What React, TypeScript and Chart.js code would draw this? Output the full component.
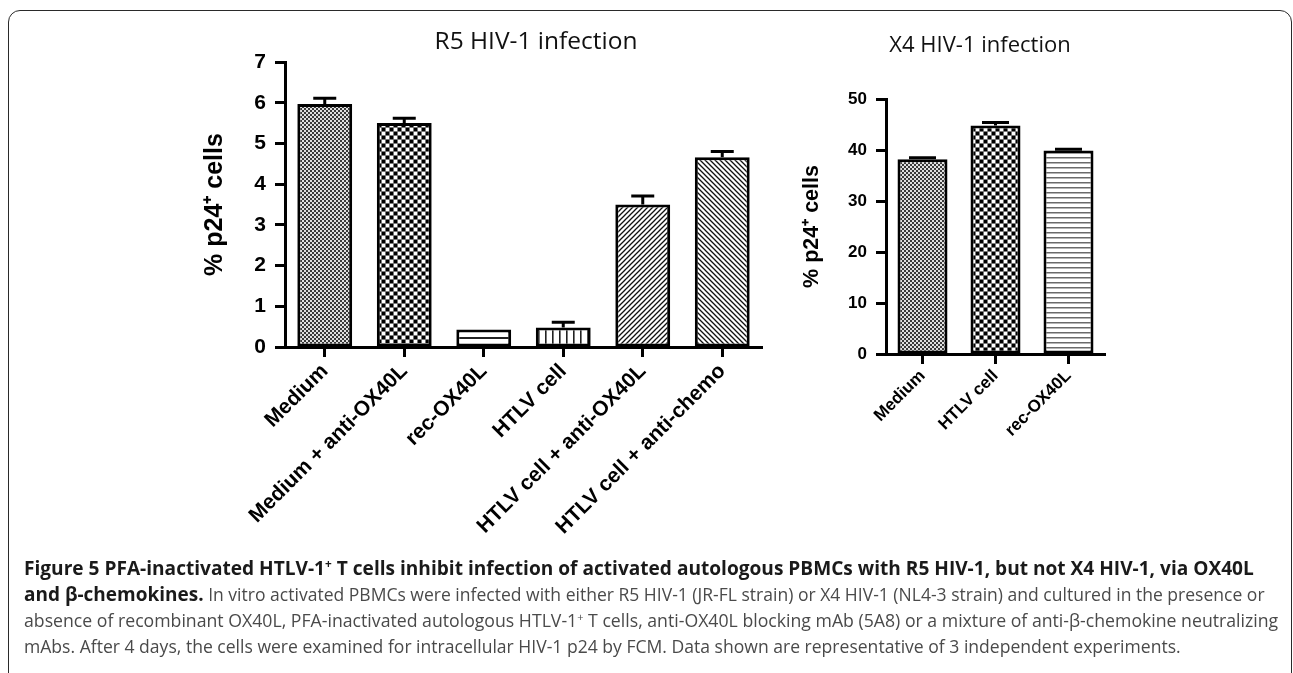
import React, { useEffect, useLayoutEffect, useRef } from 'react';
import { Chart, registerables } from 'chart.js';

Chart.register(...registerables);

// ---------- data ----------
const r5Title = 'R5 HIV-1 infection';
const r5Categories = ['Medium', 'Medium + anti-OX40L', 'rec-OX40L', 'HTLV cell', 'HTLV cell + anti-OX40L', 'HTLV cell + anti-chemo'];
const r5Values = [5.97, 5.5, 0.43, 0.48, 3.5, 4.66];
const r5Errors = [0.14, 0.12, 0.0, 0.13, 0.21, 0.14];
const r5Ticks = [0, 1, 2, 3, 4, 5, 6, 7];
const r5Patterns = ['fineChecker', 'coarseChecker', 'hLinesWide', 'vLines', 'diagUp', 'diagDown'];

const x4Title = 'X4 HIV-1 infection';
const x4Categories = ['Medium', 'HTLV cell', 'rec-OX40L'];
const x4Values = [38.2, 44.8, 39.9];
const x4Errors = [0.3, 0.6, 0.25];
const x4Ticks = [0, 10, 20, 30, 40, 50];
const x4Patterns = ['fineChecker', 'coarseChecker', 'hLinesFine'];

const yAxisTitle = '% p24\u207A cells';

// ---------- patterns ----------
function tile(ctx: CanvasRenderingContext2D, w: number, h: number, draw: (t: CanvasRenderingContext2D) => void) {
  const c = document.createElement('canvas');
  c.width = w;
  c.height = h;
  const t = c.getContext('2d') as CanvasRenderingContext2D;
  t.fillStyle = '#fff';
  t.fillRect(0, 0, w, h);
  draw(t);
  return ctx.createPattern(c, 'repeat') as CanvasPattern;
}

function makePattern(ctx: CanvasRenderingContext2D, name: string) {
  switch (name) {
    case 'fineChecker':
      return tile(ctx, 4, 4, (t) => {
        t.fillStyle = '#3a3a3a';
        t.fillRect(0, 0, 4, 4);
        t.fillStyle = '#e0e0e0';
        t.fillRect(0, 0, 2, 2);
        t.fillRect(2, 2, 2, 2);
      });
    case 'coarseChecker':
      return tile(ctx, 8, 8, (t) => {
        t.fillStyle = '#000';
        t.fillRect(0, 0, 3, 3);
        t.fillRect(4, 4, 3, 3);
        t.fillStyle = '#777';
        t.fillRect(3, 0, 1, 8);
        t.fillRect(7, 0, 1, 8);
        t.fillRect(0, 3, 8, 1);
        t.fillRect(0, 7, 8, 1);
      });
    case 'hLinesWide':
      return tile(ctx, 8, 9, (t) => {
        t.fillStyle = '#222';
        t.fillRect(0, 4, 8, 2);
      });
    case 'hLinesFine':
      return tile(ctx, 8, 5, (t) => {
        t.fillStyle = '#6a6a6a';
        t.fillRect(0, 2, 8, 1.5);
      });
    case 'vLines':
      return tile(ctx, 7, 8, (t) => {
        t.fillStyle = '#222';
        t.fillRect(3, 0, 1.6, 8);
      });
    case 'diagUp':
      return tile(ctx, 5, 5, (t) => {
        t.strokeStyle = '#111';
        t.lineWidth = 1.3;
        t.beginPath();
        t.moveTo(-1, 6);
        t.lineTo(6, -1);
        t.moveTo(-1, 1);
        t.lineTo(1, -1);
        t.moveTo(4, 6);
        t.lineTo(6, 4);
        t.stroke();
      });
    case 'diagDown':
    default:
      return tile(ctx, 5, 5, (t) => {
        t.strokeStyle = '#111';
        t.lineWidth = 1.3;
        t.beginPath();
        t.moveTo(-1, -1);
        t.lineTo(6, 6);
        t.moveTo(4, -1);
        t.lineTo(6, 1);
        t.moveTo(-1, 4);
        t.lineTo(1, 6);
        t.stroke();
      });
  }
}

// ---------- plugins ----------
const errorBarPlugin = {
  id: 'errorBars',
  afterDatasetsDraw(chart: any, _args: any, opts: any) {
    const { ctx } = chart;
    const meta = chart.getDatasetMeta(0);
    const yScale = chart.scales.y;
    const values = chart.data.datasets[0].data as number[];
    ctx.save();
    ctx.strokeStyle = '#000';
    ctx.lineWidth = 3;
    meta.data.forEach((bar: any, i: number) => {
      const e = opts.errors[i];
      if (!e) return;
      const yTop = yScale.getPixelForValue(values[i] + e);
      ctx.beginPath();
      ctx.moveTo(bar.x, bar.y);
      ctx.lineTo(bar.x, yTop);
      ctx.moveTo(bar.x - opts.cap / 2, yTop);
      ctx.lineTo(bar.x + opts.cap / 2, yTop);
      ctx.stroke();
    });
    ctx.restore();
  },
};

const panelTitlePlugin = {
  id: 'panelTitle',
  afterDraw(chart: any, _args: any, opts: any) {
    const { ctx } = chart;
    ctx.save();
    ctx.font = opts.font;
    ctx.fillStyle = '#111';
    ctx.textAlign = 'center';
    ctx.textBaseline = 'alphabetic';
    ctx.fillText(opts.text, opts.x, opts.y);
    ctx.restore();
  },
};

interface PanelSpec {
  title: string;
  titleX: number;
  titleY: number;
  titleFont: string;
  labels: string[];
  values: number[];
  errors: number[];
  patterns: string[];
  ticks: number[];
  padTop: number;
  padRight: number;
  yWidth: number;
  xHeight: number;
  tickSize: number;
  xLabelSize: number;
  yTitleSize: number;
  yTitlePad: number;
  barPct: number;
  cap: number;
}

function buildChart(canvas: HTMLCanvasElement, p: PanelSpec) {
  const ctx = canvas.getContext('2d') as CanvasRenderingContext2D;
  const fills = p.patterns.map((n) => makePattern(ctx, n));
  const family = '"Liberation Sans", Arial, sans-serif';
  return new Chart(canvas, {
    type: 'bar',
    data: {
      labels: p.labels,
      datasets: [
        {
          data: p.values,
          backgroundColor: fills as any,
          borderColor: '#000',
          borderWidth: 3,
          borderSkipped: false as any,
          barPercentage: p.barPct,
          categoryPercentage: 1,
        },
      ],
    },
    options: {
      responsive: false,
      animation: false,
      events: [],
      layout: { padding: { top: p.padTop, right: p.padRight, left: 0, bottom: 0 } },
      plugins: {
        legend: { display: false },
        tooltip: { enabled: false },
        title: { display: false },
        errorBars: { errors: p.errors, cap: p.cap },
        panelTitle: { text: p.title, x: p.titleX, y: p.titleY, font: p.titleFont },
      } as any,
      scales: {
        x: {
          type: 'category',
          offset: true,
          grid: {
            display: true,
            drawOnChartArea: false,
            drawTicks: true,
            tickLength: 10,
            tickWidth: 3,
            tickColor: '#000',
            offset: false,
          },
          border: { display: true, color: '#000', width: 3 },
          ticks: {
            color: '#000',
            autoSkip: false,
            minRotation: 45,
            maxRotation: 45,
            padding: 2,
            font: { family, size: p.xLabelSize, weight: 'bold' },
          },
          afterFit: (s: any) => {
            s.height = p.xHeight;
          },
        },
        y: {
          min: p.ticks[0],
          max: p.ticks[p.ticks.length - 1],
          afterBuildTicks: (s: any) => {
            s.ticks = p.ticks.map((v) => ({ value: v }));
          },
          grid: {
            display: true,
            drawOnChartArea: false,
            drawTicks: true,
            tickLength: 10,
            tickWidth: 3,
            tickColor: '#000',
          },
          border: { display: true, color: '#000', width: 3 },
          ticks: {
            color: '#000',
            padding: 9,
            font: { family, size: p.tickSize, weight: 'bold' },
          },
          title: {
            display: true,
            text: yAxisTitle,
            color: '#000',
            font: { family, size: p.yTitleSize, weight: 'bold' },
            padding: { top: p.yTitlePad, bottom: 0 },
          },
          afterFit: (s: any) => {
            s.width = p.yWidth;
          },
        },
      },
    } as any,
    plugins: [errorBarPlugin, panelTitlePlugin],
  });
}

const CANVAS_H = 560;

const r5Spec: PanelSpec = {
  title: r5Title,
  titleX: 386,
  titleY: 49,
  titleFont: '24.5px "Open Sans", sans-serif',
  labels: r5Categories,
  values: r5Values,
  errors: r5Errors,
  patterns: r5Patterns,
  ticks: r5Ticks,
  padTop: 62,
  padRight: 28,
  yWidth: 135,
  xHeight: CANVAS_H - 347,
  tickSize: 21,
  xLabelSize: 21,
  yTitleSize: 25,
  yTitlePad: 50,
  barPct: 0.69,
  cap: 23,
};

const x4Spec: PanelSpec = {
  title: x4Title,
  titleX: 200,
  titleY: 52,
  titleFont: '22px "Open Sans", sans-serif',
  labels: x4Categories,
  values: x4Values,
  errors: x4Errors,
  patterns: x4Patterns,
  ticks: x4Ticks,
  padTop: 99,
  padRight: 35,
  yWidth: 106,
  xHeight: CANVAS_H - 354,
  tickSize: 17,
  xLabelSize: 17,
  yTitleSize: 21.5,
  yTitlePad: 19,
  barPct: 0.685,
  cap: 27,
};

function Panel({ spec, left, width, height }: { spec: PanelSpec; left: number; width: number; height: number }) {
  const ref = useRef<HTMLCanvasElement | null>(null);
  useEffect(() => {
    if (!ref.current) return;
    const chart = buildChart(ref.current, spec);
    return () => chart.destroy();
  }, [spec]);
  return (
    <canvas
      ref={ref}
      width={width}
      height={height}
      style={{ position: 'absolute', left, top: 0, width, height }}
    />
  );
}

// ---------- caption ----------
const captionTargets = [1254, 1265, 1278, 1181];
const captionLeft = 24;
const captionTops = [556, 582, 608, 634];

function Caption() {
  const refs = useRef<(HTMLDivElement | null)[]>([]);
  useLayoutEffect(() => {
    refs.current.forEach((el, i) => {
      if (!el) return;
      el.style.transform = 'none';
      const w = el.scrollWidth;
      const target = captionTargets[i] - captionLeft;
      el.style.transform = `scaleX(${target / w})`;
    });
  }, []);
  const base: React.CSSProperties = {
    position: 'absolute',
    left: captionLeft,
    whiteSpace: 'nowrap',
    transformOrigin: '0 0',
    fontFamily: '"Open Sans", "Noto Sans", sans-serif',
    fontSize: 18,
    lineHeight: '24px',
    color: '#4a4a4a',
  };
  const bold: React.CSSProperties = { fontWeight: 700, color: '#1a1a1a', fontSize: 19.5 };
  const sup: React.CSSProperties = { fontSize: '0.62em', verticalAlign: '0.55em', lineHeight: 0 };
  return (
    <>
      <div ref={(el) => { refs.current[0] = el; }} style={{ ...base, top: captionTops[0] }}>
        <span style={bold}>
          Figure 5 PFA-inactivated HTLV-1<span style={sup}>+</span> T cells inhibit infection of activated autologous PBMCs with R5 HIV-1, but not X4 HIV-1, via OX40L
        </span>
      </div>
      <div ref={(el) => { refs.current[1] = el; }} style={{ ...base, top: captionTops[1] }}>
        <span style={bold}>and β-chemokines.</span> In vitro activated PBMCs were infected with either R5 HIV-1 (JR-FL strain) or X4 HIV-1 (NL4-3 strain) and cultured in the presence or
      </div>
      <div ref={(el) => { refs.current[2] = el; }} style={{ ...base, top: captionTops[2] }}>
        absence of recombinant OX40L, PFA-inactivated autologous HTLV-1<span style={sup}>+</span> T cells, anti-OX40L blocking mAb (5A8) or a mixture of anti-β-chemokine neutralizing
      </div>
      <div ref={(el) => { refs.current[3] = el; }} style={{ ...base, top: captionTops[3] }}>
        mAbs. After 4 days, the cells were examined for intracellular HIV-1 p24 by FCM. Data shown are representative of 3 independent experiments.
      </div>
    </>
  );
}

export default function App() {
  return (
    <div
      style={{
        position: 'absolute',
        left: 0,
        top: 0,
        width: 1293,
        height: 673,
        overflow: 'hidden',
        background: '#fff',
      }}
    >
      <div
        style={{
          position: 'absolute',
          left: 8,
          top: 10,
          width: 1284,
          height: 700,
          boxSizing: 'border-box',
          border: '1.6px solid #2a2a2a',
          borderRadius: 12,
        }}
      />
      <Panel spec={r5Spec} left={150} width={640} height={CANVAS_H} />
      <Panel spec={x4Spec} left={780} width={360} height={CANVAS_H} />
      <Caption />
    </div>
  );
}
